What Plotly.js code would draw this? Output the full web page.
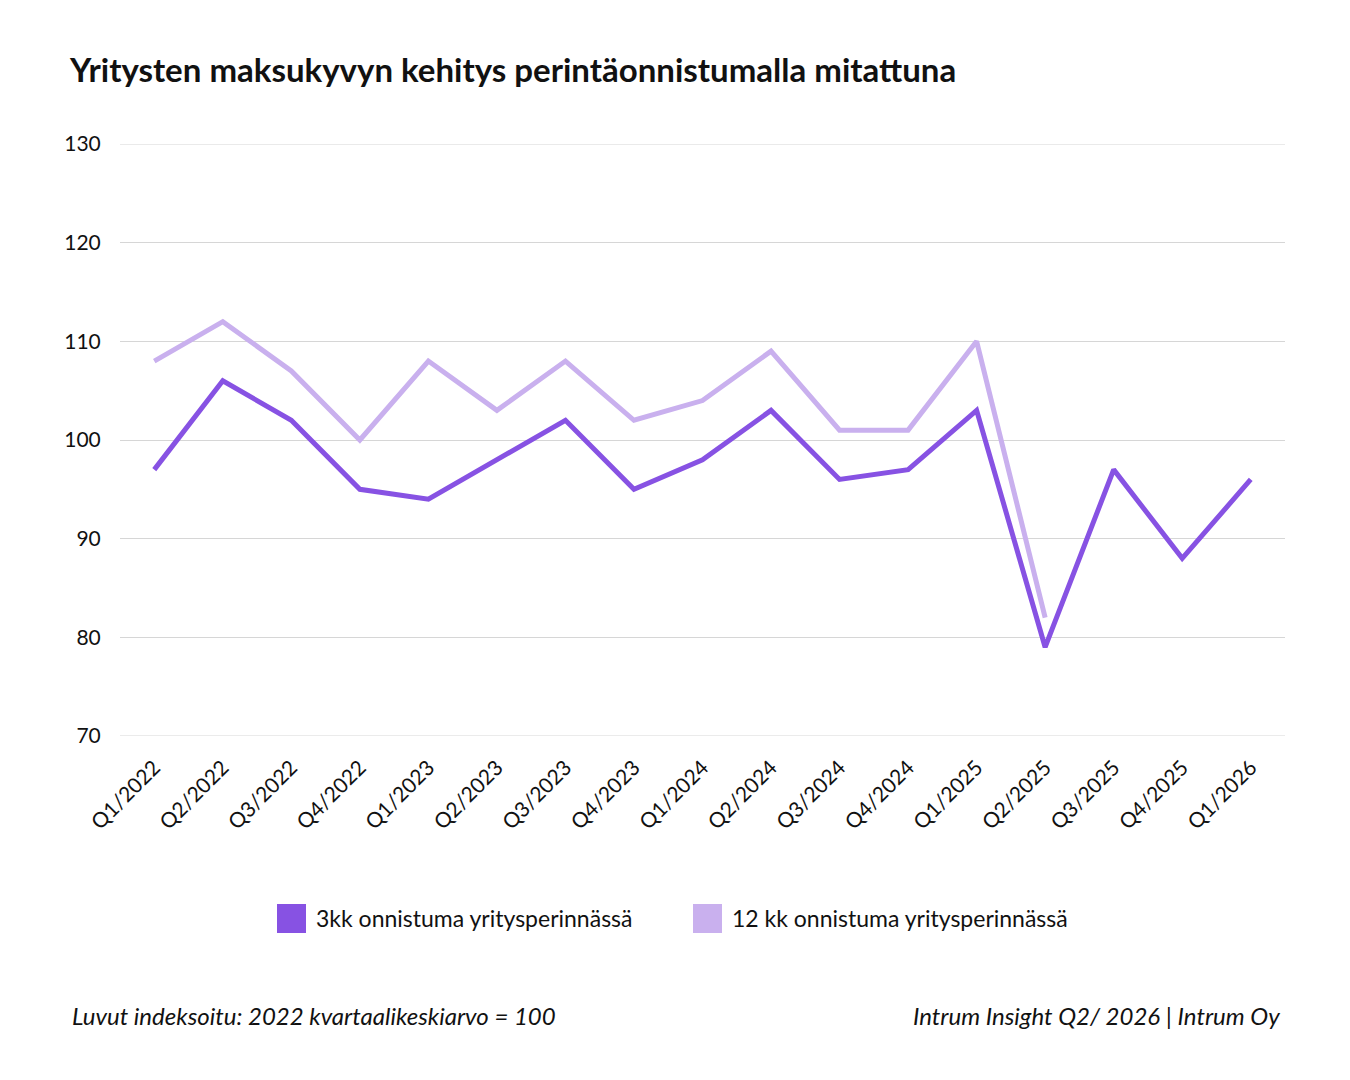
<!DOCTYPE html>
<html>
<head>
<meta charset="utf-8">
<script src="https://cdn.plot.ly/plotly-3.0.1.min.js"></script>
<style>
  html, body { margin: 0; padding: 0; background: #fff; }
  #chart { width: 1350px; height: 1080px; }
</style>
</head>
<body>
<div id="chart"></div>
<script>
// Quarterly payment ability index (2022 quarterly average = 100)

const quarters = [
    'Q1/2022', 'Q2/2022', 'Q3/2022', 'Q4/2022',
    'Q1/2023', 'Q2/2023', 'Q3/2023', 'Q4/2023',
    'Q1/2024', 'Q2/2024', 'Q3/2024', 'Q4/2024',
    'Q1/2025', 'Q2/2025', 'Q3/2025', 'Q4/2025',
    'Q1/2026'
];
const success3kk = [97, 106, 102, 95, 94, 98, 102, 95, 98, 103, 96, 97, 103, 79, 97, 88, 96];
const success12kk = [108, 112, 107, 100, 108, 103, 108, 102, 104, 109, 101, 101, 110, 82, null, null, null];

const yTicks = [70, 80, 90, 100, 110, 120, 130];

const seriesNames = ['3kk onnistuma yritysperinnässä', '12 kk onnistuma yritysperinnässä'];
const seriesColors = ['#8752E3', '#C9B0EE'];

const FONT = 'Lato, "Noto Sans", sans-serif';

// plot box in pixels, used to place the hand-built legend and footnotes
const PL = 120, PR = 65, PT = 144, PB = 344, W = 1350, H = 1080;
const PW = W - PL - PR, PH = H - PT - PB;
const px = (x) => (x - PL) / PW;
const py = (y) => (H - PB - y) / PH;

const traces = [
    {
        x: quarters, y: success12kk, name: seriesNames[1],
        type: 'scatter', mode: 'lines',
        line: { color: seriesColors[1], width: 5 },
        showlegend: false,
    },
    {
        x: quarters, y: success3kk, name: seriesNames[0],
        type: 'scatter', mode: 'lines',
        line: { color: seriesColors[0], width: 5 },
        showlegend: false,
    },
];

// Plotly skips grid lines that sit on the plot edges; draw those two here
const edgeGrid = [yTicks[0], yTicks[yTicks.length - 1]].map(v => ({
    type: 'line', layer: 'below', xref: 'paper', yref: 'y',
    x0: 0, x1: 1, y0: v, y1: v,
    line: { color: '#d6d6d6', width: 1 },
}));

// Legend: tall colour swatches with labels below the plot
const legendShapes = [];
const legendTexts = [];
const legendX = [277, 693];
seriesNames.forEach((name, i) => {
    legendShapes.push({
        type: 'rect', xref: 'paper', yref: 'paper',
        x0: px(legendX[i]), x1: px(legendX[i] + 29),
        y0: py(933), y1: py(904),
        fillcolor: seriesColors[i], line: { width: 0 },
    });
    legendTexts.push({
        xref: 'paper', yref: 'paper',
        x: px(legendX[i] + 37), y: py(918),
        xanchor: 'left', yanchor: 'middle', showarrow: false,
        text: name, font: { family: FONT, size: 23, color: '#111' },
    });
});

const layout = {
    width: W, height: H,
    paper_bgcolor: '#fff', plot_bgcolor: '#fff',
    font: { family: FONT, color: '#111', size: 21 },
    title: {
        text: '<b>Yritysten maksukyvyn kehitys perintäonnistumalla mitattuna</b>',
        font: { family: FONT, size: 33, color: '#111' },
        xref: 'container', x: 70 / W, xanchor: 'left',
        yref: 'container', y: 1 - 70 / H, yanchor: 'middle',
    },
    margin: { l: PL, r: PR, t: PT, b: PB },
    xaxis: {
        type: 'category',
        range: [-0.5, quarters.length - 0.5],
        tickangle: -45,
        tickfont: { family: FONT, size: 21, color: '#111' },
        showgrid: false, zeroline: false, showline: false,
        ticks: 'outside', ticklen: 10, tickcolor: 'rgba(0,0,0,0)',
    },
    yaxis: {
        range: [yTicks[0], yTicks[yTicks.length - 1]],
        tickvals: yTicks,
        tickfont: { family: FONT, size: 21, color: '#111' },
        gridcolor: '#d6d6d6', gridwidth: 1,
        zeroline: false, showline: false,
        ticks: 'outside', ticklen: 14, tickcolor: 'rgba(0,0,0,0)',
    },
    showlegend: false,
    shapes: edgeGrid.concat(legendShapes),
    annotations: legendTexts.concat([
        {
            xref: 'paper', yref: 'paper',
            x: px(70), y: py(1015),
            xanchor: 'left', yanchor: 'middle', showarrow: false,
            text: '<i>Luvut indeksoitu: 2022 kvartaalikeskiarvo = 100</i>',
            font: { family: FONT, size: 24, color: '#111' },
        },
        {
            xref: 'paper', yref: 'paper',
            x: px(1282), y: py(1015),
            xanchor: 'right', yanchor: 'middle', showarrow: false,
            text: '<i>Intrum Insight Q2/ 2026 | Intrum Oy</i>',
            font: { family: FONT, size: 24, color: '#111' },
        },
    ]),
};

Plotly.newPlot('chart', traces, layout, { displayModeBar: false, staticPlot: true });
</script>
</body>
</html>
